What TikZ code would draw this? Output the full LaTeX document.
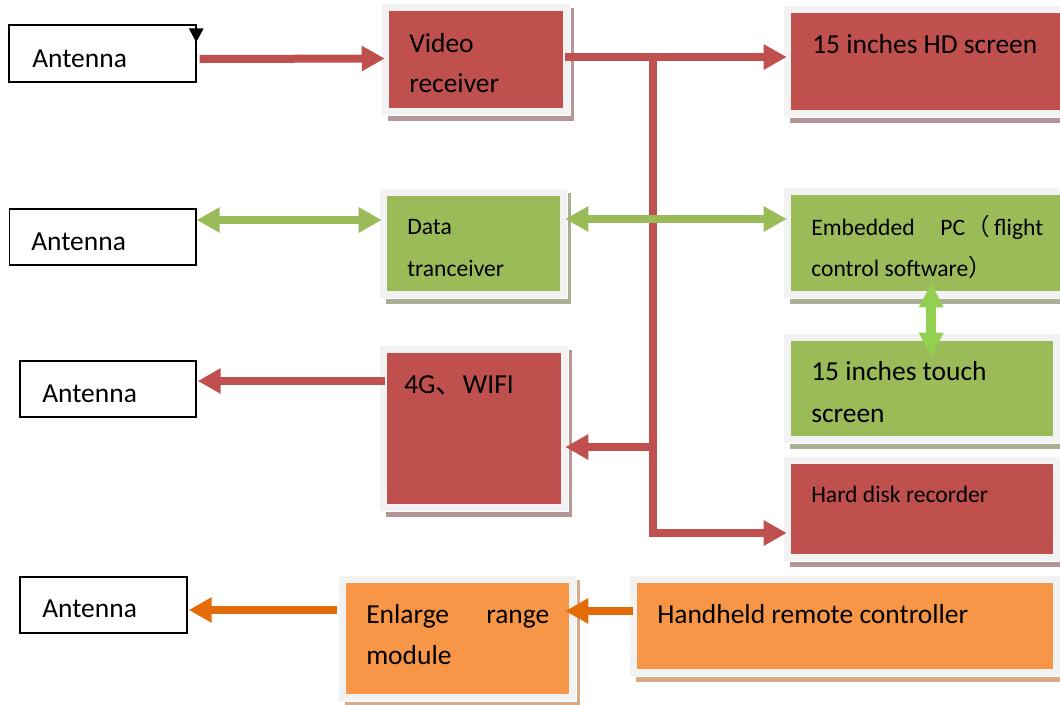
\documentclass[tikz,border=0pt]{standalone}
\usepackage{fontspec}
\setmainfont{Carlito}
\newfontfamily\cjk{Noto Sans CJK SC}
\usetikzlibrary{arrows.meta,calc,fit}

\definecolor{boxred}{HTML}{C0504D}
\definecolor{boxgreen}{HTML}{9BBB59}
\definecolor{boxorange}{HTML}{F79646}
\definecolor{framegrey}{HTML}{F2F2F2}
\definecolor{redshadow}{HTML}{B59595}
\definecolor{greenshadow}{HTML}{AAB096}
\definecolor{orangeshadow}{HTML}{D7AA88}
\definecolor{linkred}{HTML}{C0504D}
\definecolor{linkgreen}{HTML}{9BBB59}
\definecolor{linklime}{HTML}{92D050}
\definecolor{linkorange}{HTML}{E36C09}

\newcommand\bigtxt{\fontsize{20.6pt}{24pt}\selectfont}
\newcommand\smalltxt{\fontsize{17.7pt}{21pt}\selectfont}

% coloured block: shadow, light frame, then the named coloured face
% #1 name, #2 face colour, #3 shadow colour, #4-#7 face corners x1,y1,x2,y2
\newcommand\panel[7]{%
  \fill[#3] (#4-1,#5-3) rectangle (#6+10.5,#7+12.5);
  \filldraw[fill=framegrey, draw=white, line width=0.6pt]
    (#4-7.5,#5-7.5) rectangle (#6+7.5,#7+7.5);
  \node[fit={(#4,#5) (#6,#7)}, inner sep=0pt, fill=#2] (#1) {};
}

\tikzset{
  antennabox/.style={draw=black, line width=1.1pt, fill=white, inner sep=0pt},
  lbl/.style={anchor=base west, inner sep=0pt, font=\bigtxt},
  lblsmall/.style={anchor=base west, inner sep=0pt, font=\smalltxt},
  flow/.style={line width=6pt, line join=miter,
    -{Triangle[length=17.25pt,width=18pt]}},
  flowboth/.style={line width=6pt,
    {Triangle[length=17.25pt,width=18pt]}-{Triangle[length=17.25pt,width=18pt]}},
}

\begin{document}
\begin{tikzpicture}[x=0.75pt,y=-0.75pt]
\useasboundingbox (0,0) rectangle (1060,704);
\clip (0,0) rectangle (1060,704);

% antennas
\node[antennabox, fit={(9,25) (196,82)}] (a1) {};
\node[antennabox, fit={(9.5,209) (196,265)}] (a2) {};
\node[antennabox, fit={(20,361) (196,417)}] (a3) {};
\node[antennabox, fit={(20,577) (187,633)}] (a4) {};
\fill[black] (a1.north east) ++(-8,4) -- ++(15,0) -- ++(-7.5,14) -- cycle;

\node[lbl] (a1-t) at (32,67) {Antenna};
\node[lbl] (a2-t) at (31,250) {Antenna};
\node[lbl] (a3-t) at (42,402) {Antenna};
\node[lbl] (a4-t) at (42,617) {Antenna};

% blocks
\panel{vr}{boxred}{redshadow}{389}{11}{563}{108}
\panel{hd}{boxred}{redshadow}{791}{13}{1075}{110}
\panel{dt}{boxgreen}{greenshadow}{386.5}{196}{560}{291}
\panel{pc}{boxgreen}{greenshadow}{791}{195}{1075}{291}
\panel{ts}{boxgreen}{greenshadow}{791}{341}{1053}{436}
\panel{fg}{boxred}{redshadow}{386.5}{353}{561}{504}
\panel{hdr}{boxred}{redshadow}{791}{464}{1053}{554}
\panel{er}{boxorange}{orangeshadow}{346}{583}{569}{694}
\panel{hh}{boxorange}{orangeshadow}{637}{583}{1053}{669}

% block texts
\node[lbl] (vr-1) at (409,52) {Video};
\node[lbl] (vr-2) at (409,92) {receiver};
\node[lbl] (hd-1) at (812,53) {15 inches HD screen};
\node[lblsmall] (dt-1) at (407,234) {Data};
\node[lblsmall] (dt-2) at (407,276) {tranceiver};
\node[lblsmall] (pc-1) at (811,235)
  {\makebox[174pt][s]{Embedded\hfill PC\hspace{1pt}{\cjk （}\hspace{3pt}flight}};
\node[lblsmall] (pc-2) at (811,276) {control software{\cjk ）}};
\node[lbl] (ts-1) at (811,380) {15 inches touch};
\node[lbl] (ts-2) at (811,422) {screen};
\node[lbl] (fg-1) at (404,393) {4G{\cjk 、}WIFI};
\node[lblsmall] (hdr-1) at (811,502) {Hard disk recorder};
\node[lbl] (er-1) at (366,623) {\makebox[137.25pt][s]{Enlarge\hfill range}};
\node[lbl] (er-2) at (366,664) {module};
\node[lbl] (hh-1) at (657,623) {Handheld remote controller};

% video distribution
\coordinate (jt) at (653,57);
\coordinate (jb) at (653,447);
\draw[flow, linkred] ($(a1.east)+(3,5.5)$) -- ($(vr.west)+(-4,-1)$);
\draw[flow, linkred] ($(vr.east)+(2,-2.5)$) -- ($(hd.west)+(-4,-4.5)$);
\draw[flow, linkred] (jt) |- ($(hdr.west)+(-4,24)$);
\draw[flow, linkred] (jb) -- ($(fg.east)+(4,18.5)$);
\draw[flow, linkred] ($(fg.west)+(-1.5,-47.5)$) -- ($(a3.east)+(1,-8)$);

% data links
\draw[flowboth, linkgreen] ($(a2.east)+(0,-17)$) -- ($(dt.west)+(-4.5,-23.5)$);
\draw[flowboth, linkgreen] ($(dt.east)+(5,-24.5)$) -- ($(pc.west)+(-4,-24)$);
\draw[linklime, line width=7.5pt,
  {Triangle[length=18pt,width=17.25pt]}-{Triangle[length=18pt,width=17.25pt]}]
  ($(pc.south west)+(140.5,-8)$) -- ($(ts.north west)+(140.5,16)$);

% remote control chain
\draw[flow, linkorange] ($(hh.west)+(-4,-15)$) -- ($(er.east)+(-4,-27.5)$);
\draw[flow, linkorange] ($(er.west)+(-9,-28.5)$) -- ($(a4.east)+(1,5)$);
\end{tikzpicture}
\end{document}
